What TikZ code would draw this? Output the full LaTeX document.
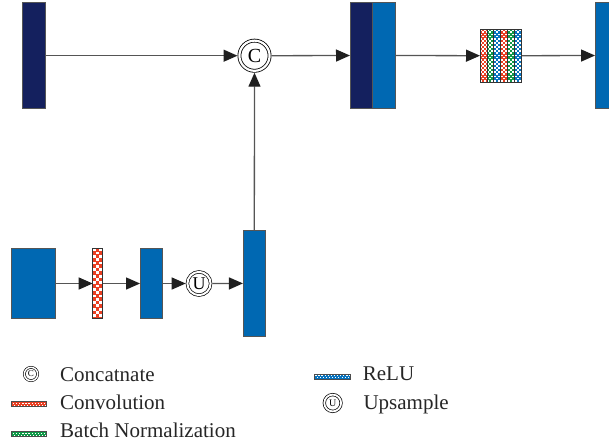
\documentclass[tikz,border=0pt]{standalone}
\usepackage{fontspec}
\setmainfont{Liberation Serif}
\usetikzlibrary{arrows.meta}
\definecolor{navy}{HTML}{14205E}
\definecolor{lblue}{HTML}{0068B2}
\definecolor{cred}{HTML}{EA3F22}
\definecolor{cgreen}{HTML}{0F9A48}
\definecolor{cblue}{HTML}{0874C0}
\definecolor{lgray}{HTML}{555555}
\tikzset{
  blk/.style={draw=lgray, line width=0.9pt, inner sep=0pt, outer sep=0pt},
  chk/.style 2 args={blk, draw=black!80, fill=#1, path picture={
    \foreach \i in {0,...,6}{\foreach \j in {0,...,22}{
      \fill[white] ([xshift=2*\i*#2*1pt, yshift=-2*\j*#2*1pt]path picture bounding box.north west) rectangle +(0.85*#2pt,-0.85*#2pt);
      \fill[white] ([xshift=(2*\i+1)*#2*1pt, yshift=-(2*\j+1)*#2*1pt]path picture bounding box.north west) rectangle +(0.85*#2pt,-0.85*#2pt);
    }}}},
  dotbar/.style={blk, draw=black!70, line width=1pt, fill=#1, path picture={
    \foreach \i in {0,...,11}{
      \fill[white] ([xshift=(1.2+3.1*\i)*1pt, yshift=0.2pt]path picture bounding box.west) rectangle +(1.3pt,1.3pt);
      \fill[white] ([xshift=(2.7+3.1*\i)*1pt, yshift=-1.5pt]path picture bounding box.west) rectangle +(0.9pt,0.9pt);
    }}},
  conn/.style={draw=lgray, line width=1.3pt, -{Triangle[length=14pt,width=12pt,color=black!88]}},
  dcirc/.style={circle, draw=black, line width=0.8pt, double=white, double distance=2.2pt, inner sep=0pt, outer sep=1.9pt, fill=white},
  lbl/.style={anchor=base west, font=\fontsize{21}{24}\selectfont, inner sep=0pt, text=black!85}
}
\begin{document}
\begin{tikzpicture}[x=1pt,y=-1pt]
\useasboundingbox (0,0) rectangle (609,445);
% top row
\node[blk, fill=navy, minimum width=22.3pt, minimum height=106pt] (b1) at (34,55.7) {};
\node[dcirc, minimum size=30.2pt, font=\fontsize{20}{20}\selectfont] (cc) at (254.5,55.7) {C};
\node[blk, fill=navy, minimum width=22.6pt, minimum height=106pt] (b2d) at (361.3,55.5) {};
\node[blk, fill=lblue, minimum width=22.4pt, minimum height=106pt] (b2l) at (383.8,55.5) {};
\foreach \k/\c in {0/cred,1/cgreen,2/cblue,3/cred,4/cgreen,5/cblue}
  \node[chk={\c}{2.1}, minimum width=6.95pt, minimum height=52.7pt] (s\k) at ({483.475+\k*6.95},55.7) {};
\node[blk, fill=lblue, minimum width=22.3pt, minimum height=106pt] (b4) at (606.2,55.5) {};
% bottom row
\node[blk, fill=lblue, minimum width=44pt, minimum height=70.4pt] (a1) at (33.7,283.5) {};
\node[chk={cred}{3.3}, minimum width=10pt, minimum height=70.4pt] (a2) at (97.7,283.5) {};
\node[blk, fill=lblue, minimum width=22.3pt, minimum height=70.4pt] (a3) at (151.2,283.5) {};
\node[dcirc, line width=0.7pt, double distance=2pt, outer sep=1.7pt, minimum size=23.2pt, font=\fontsize{18}{18}\selectfont] (up) at (199,283.5) {U};
\node[blk, fill=lblue, minimum width=22.7pt, minimum height=105.3pt] (a5) at (254.3,283.4) {};
% connectors
\draw[conn] (b1.east) -- (cc.west);
\draw[conn] (cc.east) -- (b2d.west);
\draw[conn] (b2l.east) -- (s0.west);
\draw[conn] (s5.east) -- (b4.west);
\draw[conn] (a5.north) -- (cc.south);
\draw[conn] (a1.east) -- (a2.west);
\draw[conn] (a2.east) -- (a3.west);
\draw[conn] (a3.east) -- (up.west);
\draw[conn] (up.east) -- (a5.west);
% legend
\node[dcirc, line width=0.6pt, double distance=1.5pt, outer sep=1.35pt, minimum size=13.3pt, font=\fontsize{9}{9}\selectfont] (lc) at (31,374) {C};
\node[lbl] (tc) at (60,381) {Concatnate};
\node[dotbar=cred, minimum width=35pt, minimum height=5.3pt] (lv) at (29.2,404.3) {};
\node[lbl] (tv) at (60,409.3) {Convolution};
\node[dotbar=cgreen, minimum width=35pt, minimum height=5pt] (lb) at (29.2,434.2) {};
\node[lbl] (tb) at (60,437.7) {Batch Normalization};
\node[dotbar=cblue, minimum width=36pt, minimum height=5pt] (lr) at (332,376.5) {};
\node[lbl] (tr) at (362.7,380) {ReLU};
\node[dcirc, line width=0.7pt, double distance=1.8pt, outer sep=1.6pt, minimum size=16.8pt, font=\fontsize{10}{10}\selectfont] (lu) at (332.7,403) {U};
\node[lbl] (tu) at (363.3,409.3) {Upsample};
\end{tikzpicture}
\end{document}
